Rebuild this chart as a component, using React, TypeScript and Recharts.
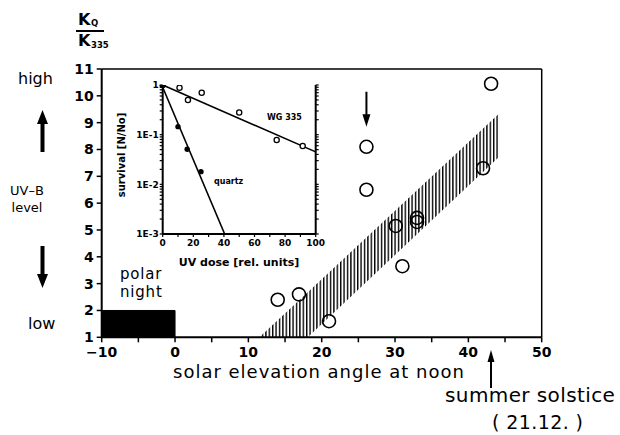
import React from 'react';
import {
  ComposedChart,
  Scatter,
  Area,
  Line,
  XAxis,
  YAxis,
  ReferenceArea,
  ReferenceLine,
} from 'recharts';

const FONT = 'DejaVu Sans';

// ---------- main chart data ----------
const elevationTicks = [-10, -5, 0, 5, 10, 15, 20, 25, 30, 35, 40, 45, 50];
const ratioTicks = [1, 2, 3, 4, 5, 6, 7, 8, 9, 10, 11];
const rightRatioTicks = [3, 5, 7, 9];

const obsElevation = [14.0, 16.9, 21.0, 26.1, 26.1, 30.1, 31.0, 33.0, 33.0, 42.0, 43.1];
const obsRatio = [2.4, 2.6, 1.6, 8.1, 6.5, 5.15, 3.65, 5.45, 5.3, 7.3, 10.45];

const bandElevation = [11.5, 18.1, 44.2];
const bandLow = [1, 1, 7.73];
const bandHigh = [1, 2.68, 9.34];

const polarNightElevation = [-10, 0];
const polarNightRatio = [1, 2];

const markerElevation = [26.1];
const markerRatio = [9.5];

// ---------- inset data ----------
const doseTicks = [0, 10, 20, 30, 40, 50, 60, 70, 80, 90, 100];
const doseLabels = [0, 20, 40, 60, 80, 100];
const survivalDecades = [1, 0.1, 0.01, 0.001];
const survivalDecadeLabels = ['1', '1E-1', '1E-2', '1E-3'];
const survivalMantissas = [1, 2, 3, 4, 5, 6, 7, 8, 9];

const wgDose = [0, 11, 16.5, 25.5, 50, 74.5, 91.5];
const wgSurvival = [1, 0.88, 0.5, 0.7, 0.28, 0.078, 0.059];
const wgFitDose = [0, 100];
const wgFitSurvival = [1, 0.045];

const quartzDose = [0, 10, 16, 25];
const quartzSurvival = [1, 0.145, 0.051, 0.018];
const quartzFitDose = [0, 40.5];
const quartzFitSurvival = [0.9, 0.001];

// ---------- derived tables ----------
const bandData = bandElevation.map((x, i) => ({ x, range: [bandLow[i], bandHigh[i]] }));
const obsData = obsElevation.map((x, i) => ({ x, y: obsRatio[i] }));
const markerData = markerElevation.map((x, i) => ({ x, y: markerRatio[i] }));

const survivalTicks = survivalDecades
  .slice(1)
  .flatMap((d) => survivalMantissas.map((m) => d * m))
  .concat([1])
  .sort((a, b) => a - b);

const wgData = wgDose.map((x, i) => ({ x, y: wgSurvival[i] }));
const wgFit = wgFitDose.map((x, i) => ({ x, y: wgFitSurvival[i] }));
const quartzData = quartzDose.map((x, i) => ({ x, y: quartzSurvival[i] }));
const quartzFit = quartzFitDose.map((x, i) => ({ x, y: quartzFitSurvival[i] }));

const fmtElev = (v: number) =>
  v % 10 === 0 ? (v < 0 ? '\u2212' + Math.abs(v) : String(v)) : '';
const fmtDose = (v: number) => (doseLabels.includes(v) ? String(v) : '');
const fmtSurv = (v: number) => {
  const i = survivalDecades.findIndex((d) => Math.abs(d - v) / d < 1e-6);
  return i >= 0 ? survivalDecadeLabels[i] : '';
};
const blank = () => '';

const mainTick = { fill: '#000', fontSize: 14, fontWeight: 700, fontFamily: FONT };
const insetTick = { fill: '#000', fontSize: 9, fontWeight: 700, fontFamily: FONT };
const axisStroke = { stroke: '#000', strokeWidth: 2 };
const tickStroke = { stroke: '#000', strokeWidth: 1.5 };

const circleShape = (p: any) => (
  <circle cx={p.cx} cy={p.cy} r={6.5} fill="none" stroke="#000" strokeWidth={1.6} />
);
const arrowShape = (p: any) => (
  <g>
    <line x1={p.cx} y1={p.cy - 17.5} x2={p.cx} y2={p.cy + 8} stroke="#000" strokeWidth={2} />
    <path d={`M${p.cx - 4},${p.cy + 5} L${p.cx + 4},${p.cy + 5} L${p.cx},${p.cy + 17.5} Z`} fill="#000" />
  </g>
);
const openDot = (p: any) => (
  <circle cx={p.cx} cy={p.cy} r={2.6} fill="#fff" stroke="#000" strokeWidth={1.3} />
);
const filledDot = (p: any) => <circle cx={p.cx} cy={p.cy} r={2.7} fill="#000" />;

const txt = { fontFamily: FONT, fill: '#000' };

export default function App() {
  return (
    <div style={{ position: 'absolute', left: 0, top: 0, width: 620, height: 435, background: '#fff' }}>
      <div style={{ position: 'absolute', left: 0, top: 0 }}>
        <ComposedChart
          width={620}
          height={435}
          data={bandData}
          margin={{ top: 69, right: 70.3, bottom: 67.7, left: 71.7 }}
        >
          <defs>
            <pattern id="hatch" width={3.4} height={6} patternUnits="userSpaceOnUse">
              <rect x={0} y={0} width={1.4} height={6} fill="#000" />
            </pattern>
          </defs>
          <XAxis
            type="number"
            dataKey="x"
            domain={[-10, 50]}
            ticks={elevationTicks}
            interval={0}
            tickFormatter={fmtElev}
            height={30}
            tickSize={5}
            tickMargin={5}
            axisLine={axisStroke}
            tickLine={tickStroke}
            tick={mainTick}
            allowDataOverflow
          />
          <YAxis
            type="number"
            domain={[1, 11]}
            ticks={ratioTicks}
            interval={0}
            width={30}
            tickSize={5}
            tickMargin={3}
            axisLine={axisStroke}
            tickLine={tickStroke}
            tick={mainTick}
            allowDataOverflow
          />
          <YAxis
            yAxisId="r"
            orientation="right"
            type="number"
            domain={[1, 11]}
            ticks={rightRatioTicks}
            interval={0}
            width={8}
            tickSize={3}
            tickFormatter={blank}
            axisLine={{ stroke: '#000', strokeWidth: 1.5 }}
            tickLine={tickStroke}
          />
          <ReferenceLine y={11} stroke="#000" strokeWidth={1.5} />
          <ReferenceArea
            x1={polarNightElevation[0]}
            x2={polarNightElevation[1]}
            y1={polarNightRatio[0]}
            y2={polarNightRatio[1]}
            fill="#000"
            fillOpacity={1}
            stroke="#000"
          />
          <Area
            type="linear"
            dataKey="range"
            fill="url(#hatch)"
            fillOpacity={1}
            stroke="none"
            isAnimationActive={false}
          />
          <Scatter data={obsData} dataKey="y" shape={circleShape} isAnimationActive={false} />
          <Scatter data={markerData} dataKey="y" shape={arrowShape} isAnimationActive={false} />
        </ComposedChart>
      </div>

      <div style={{ position: 'absolute', left: 112, top: 75 }}>
        <ComposedChart width={223} height={200} margin={{ top: 10, right: 15.3, bottom: 16, left: 10.7 }}>
          <XAxis
            type="number"
            dataKey="x"
            domain={[0, 100]}
            ticks={doseTicks}
            interval={0}
            tickFormatter={fmtDose}
            height={25}
            tickSize={3}
            tickMargin={3}
            axisLine={axisStroke}
            tickLine={{ stroke: '#000', strokeWidth: 1.2 }}
            tick={insetTick}
          />
          <XAxis
            xAxisId="top"
            orientation="top"
            type="number"
            domain={[0, 100]}
            ticks={doseTicks}
            interval={0}
            height={0}
            tickSize={3}
            tickFormatter={blank}
            axisLine={axisStroke}
            tickLine={{ stroke: '#000', strokeWidth: 1.2 }}
          />
          <YAxis
            type="number"
            scale="log"
            domain={[0.001, 1]}
            ticks={survivalTicks}
            interval={0}
            width={40}
            tickSize={3}
            tickMargin={1}
            tickFormatter={fmtSurv}
            axisLine={axisStroke}
            tickLine={{ stroke: '#000', strokeWidth: 1.2 }}
            tick={insetTick}
            allowDataOverflow
          />
          <YAxis
            yAxisId="r"
            orientation="right"
            type="number"
            scale="log"
            domain={[0.001, 1]}
            ticks={survivalTicks}
            interval={0}
            width={4}
            tickSize={3}
            tickFormatter={blank}
            axisLine={axisStroke}
            tickLine={{ stroke: '#000', strokeWidth: 1.2 }}
            allowDataOverflow
          />
          <Line data={wgFit} dataKey="y" type="linear" stroke="#000" strokeWidth={1.6} dot={false} isAnimationActive={false} />
          <Line data={quartzFit} dataKey="y" type="linear" stroke="#000" strokeWidth={1.6} dot={false} isAnimationActive={false} />
          <Scatter data={wgData} dataKey="y" shape={openDot} isAnimationActive={false} />
          <Scatter data={quartzData} dataKey="y" shape={filledDot} isAnimationActive={false} />
        </ComposedChart>
      </div>

      <svg
        width={620}
        height={435}
        style={{ position: 'absolute', left: 0, top: 0, pointerEvents: 'none' }}
      >
        {/* K_Q / K_335 */}
        <text x={78} y={25} fontSize={16} fontWeight={700} {...txt}>K</text>
        <text x={91} y={26} fontSize={8.5} fontWeight={700} {...txt}>Q</text>
        <line x1={76} y1={31} x2={104} y2={31} stroke="#000" strokeWidth={2} />
        <text x={78} y={46} fontSize={16} fontWeight={700} {...txt}>K</text>
        <text x={91} y={48} fontSize={8.5} fontWeight={700} {...txt}>335</text>

        <text x={18} y={84} fontSize={16} {...txt}>high</text>
        <path d="M40.5,152 L40.5,124 L37,124 L42.5,110 L48,124 L44.5,124 L44.5,152 Z" fill="#000" />
        <text x={27} y={195} fontSize={13} textAnchor="middle" {...txt}>UV–B</text>
        <text x={27} y={212} fontSize={13} textAnchor="middle" {...txt}>level</text>
        <path d="M40.5,246 L40.5,274 L37,274 L42.5,288 L48,274 L44.5,274 L44.5,246 Z" fill="#000" />
        <text x={28} y={329} fontSize={16} {...txt}>low</text>

        <text x={120} y={279} fontSize={15} letterSpacing={0.8} {...txt}>polar</text>
        <text x={120} y={297} fontSize={15} letterSpacing={0.8} {...txt}>night</text>

        <text x={173} y={378} fontSize={18} letterSpacing={1} {...txt}>solar elevation angle at noon</text>

        <line x1={491} y1={358} x2={491} y2={388} stroke="#000" strokeWidth={2} />
        <path d="M487.5,362 L494.5,362 L491,350 Z" fill="#000" />
        <text x={445} y={402} fontSize={20} letterSpacing={0.4} {...txt}>summer solstice</text>
        <text x={492} y={429} fontSize={19} letterSpacing={0.4} {...txt}>( 21.12. )</text>

        {/* inset texts */}
        <text x={267} y={120} fontSize={8} fontWeight={700} {...txt}>WG 335</text>
        <text x={214} y={184} fontSize={8} fontWeight={700} {...txt}>quartz</text>
        <text x={239} y={266} fontSize={11} fontWeight={700} textAnchor="middle" {...txt}>UV dose [rel. units]</text>
        <text
          x={125}
          y={155}
          fontSize={10}
          fontWeight={700}
          textAnchor="middle"
          transform="rotate(-90 125 155)"
          {...txt}
        >
          survival [N/No]
        </text>
      </svg>
    </div>
  );
}
